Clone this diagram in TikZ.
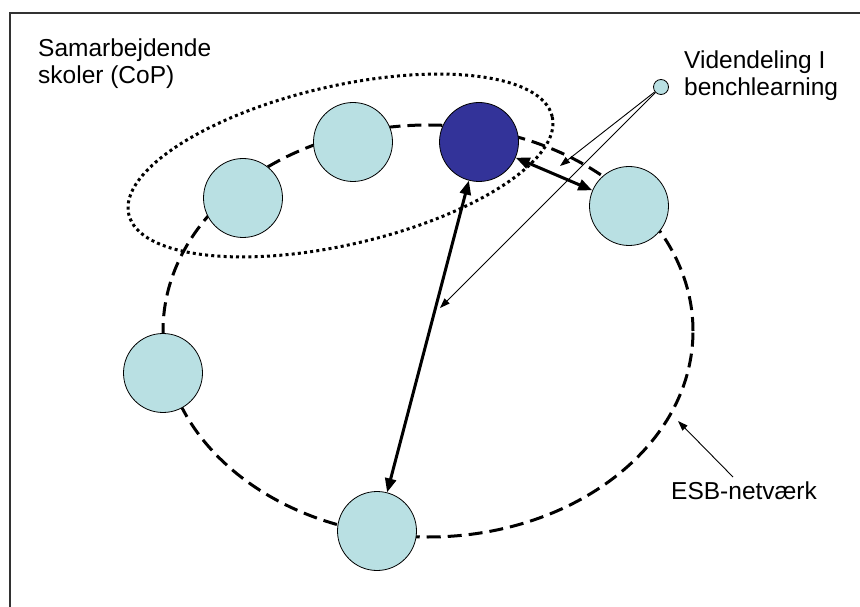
\documentclass[tikz,border=0pt]{standalone}
\usepackage{fontspec}
\setmainfont{Liberation Sans}
\usetikzlibrary{arrows.meta}
\definecolor{schoolfill}{RGB}{185,224,227}
\definecolor{hubfill}{RGB}{51,51,153}
\definecolor{framegray}{RGB}{50,50,50}
\tikzset{
  school/.style={circle, draw=black, line width=0.8pt, fill=schoolfill,
                 minimum size=79pt, inner sep=0pt},
  hub/.style={school, fill=hubfill},
  tinyschool/.style={school, minimum size=15pt},
  netline/.style={line width=3pt, dash pattern=on 14pt off 7pt},
  copline/.style={line width=3pt, dash pattern=on 3pt off 3.2pt},
  link/.style={line width=3pt, {Triangle[length=14pt,width=11pt]}-{Triangle[length=14pt,width=11pt]}},
  pointer/.style={line width=0.9pt, -{Triangle[length=10pt,width=7pt]}},
  lbl/.style={font=\fontsize{24.5}{28}\selectfont, anchor=base west, inner sep=0pt},
}
\begin{document}
\begin{tikzpicture}[x=1pt,y=1pt]
\useasboundingbox (0,0) rectangle (860,606);

% outer frame (left and top edges)
\draw[framegray, line width=2pt] (10,-2) -- (10,593) -- (862,593);

% network ring and community-of-practice ring
\draw[netline] (428,275) ellipse [x radius=265, y radius=206];
\draw[copline, rotate around={13:(340.5,440.5)}]
  (340.5,440.5) ellipse [x radius=217.3, y radius=79.3];

% schools
\node[school] (c1) at (243,408) {};
\node[school] (c2) at (353,464) {};
\node[hub]    (hb) at (479,464) {};
\node[school] (rt) at (629,400) {};
\node[school] (lf) at (163,233) {};
\node[school] (bt) at (377,75) {};
\node[tinyschool] (sm) at (661,519) {};

% knowledge exchange links
\draw[link] (hb) -- (bt);
\draw[link] (hb) -- (rt);

% labels
\node[lbl] (t1a) at (38,549.5) {Samarbejdende};
\node[lbl] (t1b) at (38,522) {skoler (CoP)};
\node[lbl] (t2a) at (684,537.5) {Videndeling I};
\node[lbl] (t2b) at (684,510) {benchlearning};
\node[lbl, inner sep=0pt] (esb) at (671,107) {ESB-netværk};

% pointers
\coordinate (tipA) at (560,440);
\coordinate (tipB) at (440,298);
\coordinate (esbtip) at (678,185);
\coordinate (esbstart) at (733,129);
\draw[pointer] (sm) -- (tipA);
\draw[pointer] (sm) -- (tipB);
\draw[pointer] (esbstart) -- (esbtip);
\end{tikzpicture}
\end{document}
